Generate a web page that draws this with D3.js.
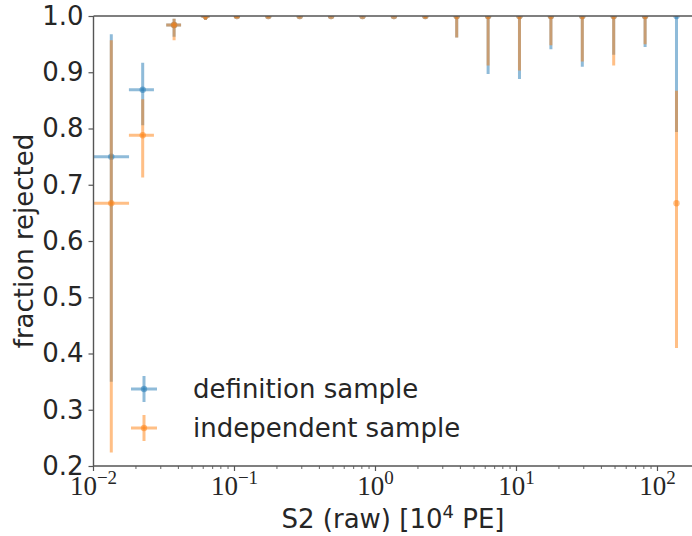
<!DOCTYPE html>
<html>
<head>
<meta charset="utf-8">
<script src="https://cdn.jsdelivr.net/npm/d3@7"></script>
<style>
  body { margin: 0; background: #fff; }
  svg { display: block; font-family: "DejaVu Sans", sans-serif; }
</style>
</head>
<body>
<svg width="692" height="536"></svg>
<script>
// bin centres of S2 (raw) in 10^4 PE
var s2Bins = [0.01337, 0.02233, 0.03729, 0.06227, 0.1040, 0.1737, 0.2901, 0.4843, 0.8089,
  1.351, 2.256, 3.767, 6.291, 10.50, 17.54, 29.29, 48.91, 81.68, 136.4];
var binHalfWidth = 0.0045;

// definition sample
var defFrac = [0.75, 0.869, 0.984, 1, 1, 1, 1, 1, 1, 1, 1, 1, 1, 1, 1, 1, 1, 1, 1];
var defLow  = [0.350, 0.806, 0.963, 0.993, 0.997, 0.998, 0.999, 0.999, 0.999, 0.999,
  0.996, 0.962, 0.897, 0.888, 0.941, 0.910, 0.931, 0.945, 0.794];
var defHigh = [0.9675, 0.917, 0.995, 1, 1, 1, 1, 1, 1, 1, 1, 1, 1, 1, 1, 1, 1, 1, 1];

// independent sample
var indFrac = [0.667, 0.788, 0.984, 1, 1, 1, 1, 1, 1, 1, 1, 1, 1, 1, 1, 1, 1, 1, 0.667];
var indLow  = [0.224, 0.713, 0.957, 0.993, 0.997, 0.998, 0.999, 0.999, 0.999, 0.999,
  0.996, 0.962, 0.912, 0.903, 0.948, 0.919, 0.912, 0.950, 0.410];
var indHigh = [0.957, 0.852, 0.995, 1, 1, 1, 1, 1, 1, 1, 1, 1, 1, 1, 1, 1, 1, 1, 0.867];

var yTicks = [0.2, 0.3, 0.4, 0.5, 0.6, 0.7, 0.8, 0.9, 1.0];
var xExps = [-2, -1, 0, 1, 2];

var series = [
  {name: "definition sample", color: "#1f77b4", frac: defFrac, low: defLow, high: defHigh},
  {name: "independent sample", color: "#ff7f0e", frac: indFrac, low: indLow, high: indHigh}
];

var svg = d3.select("svg"),
    pLeft = 93.5, pRight = 692, pTop = 16, pBottom = 466;

var x = d3.scaleLog().domain([0.01, 175.7]).range([pLeft, pRight]);
var y = d3.scaleLinear().domain([0.2, 1.0]).range([pBottom, pTop]);

var axisColor = "#555", textColor = "#262626";

svg.append("clipPath").attr("id", "plotclip")
  .append("rect").attr("x", pLeft).attr("y", pTop)
  .attr("width", pRight - pLeft).attr("height", pBottom - pTop);

//error bars
var plot = svg.append("g").attr("clip-path", "url(#plotclip)");

series.forEach(function(s) {
  var g = plot.append("g");
  var pts = s2Bins.map(function(b, i) {
    return {x: b, y: s.frac[i], lo: s.low[i], hi: s.high[i]};
  });
  g.selectAll("line.v").data(pts).enter().append("line")
    .attr("x1", function(d) { return x(d.x); })
    .attr("x2", function(d) { return x(d.x); })
    .attr("y1", function(d) { return y(d.lo); })
    .attr("y2", function(d) { return y(d.hi); })
    .attr("stroke", s.color).attr("stroke-width", 3).attr("stroke-opacity", 0.5);
  g.selectAll("line.h").data(pts).enter().append("line")
    .attr("x1", function(d) { return x(Math.max(d.x - binHalfWidth, 1e-4)); })
    .attr("x2", function(d) { return x(d.x + binHalfWidth); })
    .attr("y1", function(d) { return y(d.y); })
    .attr("y2", function(d) { return y(d.y); })
    .attr("stroke", s.color).attr("stroke-width", 3).attr("stroke-opacity", 0.5);
  g.selectAll("circle").data(pts).enter().append("circle")
    .attr("cx", function(d) { return x(d.x); })
    .attr("cy", function(d) { return y(d.y); })
    .attr("r", 3.2)
    .attr("fill", s.color).attr("fill-opacity", 0.5);
});

//axes
var yAxis = d3.axisLeft(y).tickValues(yTicks).tickFormat(d3.format(".1f"))
  .tickSize(5).tickPadding(5);
var gy = svg.append("g").attr("transform", "translate(" + pLeft + ",0)").call(yAxis);
gy.select(".domain").remove();
gy.selectAll("line").attr("stroke", axisColor).attr("stroke-width", 1.2);
gy.selectAll("text").attr("font-size", 26).attr("fill", textColor)
  .attr("font-family", "DejaVu Sans");

// minor + major x ticks
var minorTicks = [];
for (var e = -2; e <= 2; e++) {
  for (var m = 1; m <= 9; m++) {
    var v = m * Math.pow(10, e);
    if (v <= 175.7) minorTicks.push({v: v, major: m === 1});
  }
}
var gx = svg.append("g");
gx.selectAll("line").data(minorTicks).enter().append("line")
  .attr("x1", function(d) { return x(d.v); })
  .attr("x2", function(d) { return x(d.v); })
  .attr("y1", pBottom)
  .attr("y2", function(d) { return pBottom + (d.major ? 5 : 3); })
  .attr("stroke", axisColor).attr("stroke-width", function(d) { return d.major ? 1.2 : 0.9; });

var xl = gx.selectAll("text").data(xExps).enter().append("text")
  .attr("x", function(d) { return x(Math.pow(10, d)); })
  .attr("y", 495)
  .attr("text-anchor", "middle")
  .attr("font-family", "Liberation Serif, DejaVu Serif, serif")
  .attr("fill", textColor)
  .attr("font-size", 27);
xl.append("tspan").text("10");
xl.append("tspan").attr("dy", -11).attr("font-size", 19)
  .text(function(d) { return d < 0 ? "\u2212" + (-d) : String(d); });

//spines
svg.append("line").attr("x1", pLeft).attr("x2", pLeft).attr("y1", pTop).attr("y2", pBottom)
  .attr("stroke", axisColor).attr("stroke-width", 1.4);
svg.append("line").attr("x1", pLeft).attr("x2", pRight).attr("y1", pBottom).attr("y2", pBottom)
  .attr("stroke", axisColor).attr("stroke-width", 1.4);
svg.append("line").attr("x1", pLeft).attr("x2", pRight).attr("y1", pTop).attr("y2", pTop)
  .attr("stroke", axisColor).attr("stroke-width", 1.4);

//axis labels
var xlab = svg.append("text").attr("x", 393).attr("y", 528)
  .attr("text-anchor", "middle").attr("font-size", 26).attr("fill", textColor);
xlab.append("tspan").text("S2 (raw) [10");
xlab.append("tspan").attr("dy", -10).attr("font-size", 18).text("4");
xlab.append("tspan").attr("dy", 10).text(" PE]");

svg.append("text")
  .attr("transform", "translate(33," + ((pTop + pBottom) / 2) + ") rotate(-90)")
  .attr("text-anchor", "middle").attr("font-size", 26).attr("fill", textColor)
  .text("fraction rejected");

//legend
var legend = svg.append("g").selectAll("g").data(series).enter().append("g")
  .attr("transform", function(d, i) { return "translate(144," + (389 + i * 39) + ")"; });
legend.append("line").attr("x1", -13).attr("x2", 13)
  .attr("stroke", function(d) { return d.color; }).attr("stroke-width", 3).attr("stroke-opacity", 0.5);
legend.append("line").attr("y1", -13).attr("y2", 13)
  .attr("stroke", function(d) { return d.color; }).attr("stroke-width", 3).attr("stroke-opacity", 0.5);
legend.append("circle").attr("r", 3.2)
  .attr("fill", function(d) { return d.color; }).attr("fill-opacity", 0.5);
legend.append("text").attr("x", 49).attr("y", 9)
  .attr("font-size", 26).attr("fill", textColor)
  .text(function(d) { return d.name; });
</script>
</body>
</html>
